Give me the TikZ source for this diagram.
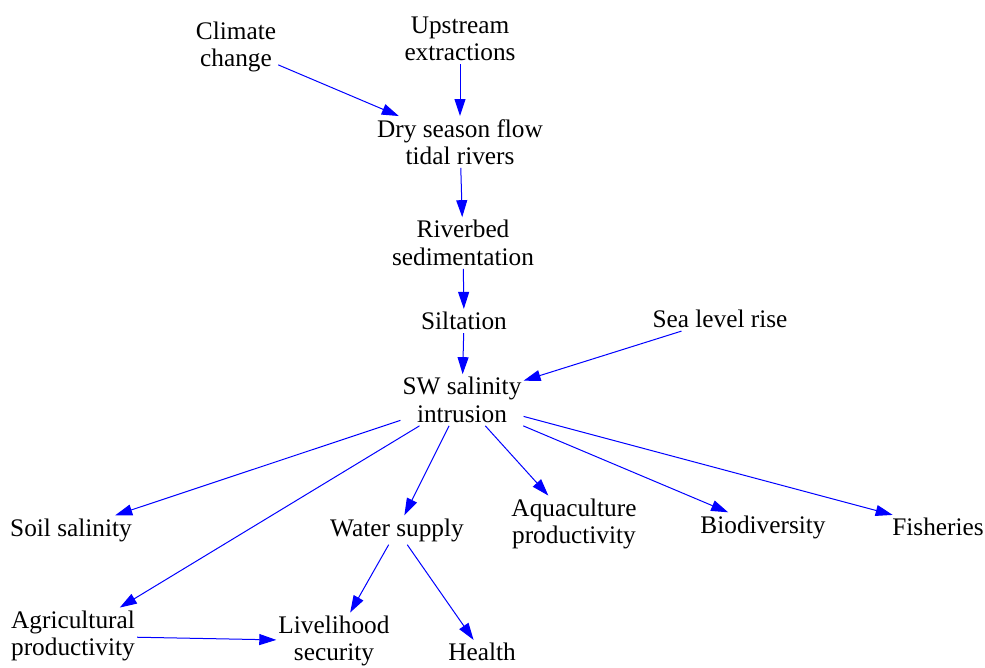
\documentclass[tikz,border=0pt]{standalone}
\usepackage{fontspec}
\setmainfont{Liberation Serif}
\usetikzlibrary{arrows.meta}

\begin{document}
\begin{tikzpicture}[x=1pt, y=-1pt, >={Triangle[length=17pt, width=11pt]}, line join=round,
	factor/.style={align=center, inner xsep=2pt, inner ysep=3pt, font=\fontsize{25.3}{27.5}\selectfont},
	link/.style={->, blue, line width=1pt}]
	\useasboundingbox (0,0) rectangle (985,667);
	% drivers
	\node[factor] (clim) at (236,47) {Climate\\change};
	\node[factor] (upstr) at (460,39) {Upstream\\extractions};
	\node[factor] (dryflow) at (460,142) {Dry season flow\\tidal rivers};
	\node[factor] (riverbed) at (463,243) {Riverbed\\sedimentation};
	\node[factor] (silt) at (464,321) {Siltation};
	\node[factor] (sealevel) at (720,319) {Sea level rise};
	\node[factor] (swsal) at (462,400) {SW salinity\\intrusion};
	% impacts
	\node[factor] (soilsal) at (71,530) {Soil salinity};
	\node[factor] (water) at (397,530) {Water supply};
	\node[factor] (aqua) at (574,524) {Aquaculture\\productivity};
	\node[factor] (biodiv) at (763,527) {Biodiversity};
	\node[factor] (fish) at (938,527) {Fisheries};
	\node[factor] (agri) at (73,636) {Agricultural\\productivity};
	\node[factor] (liveli) at (334,641) {Livelihood\\security};
	\node[factor] (health) at (482,652) {Health};
	\foreach \a/\b in {clim/dryflow, upstr/dryflow, dryflow/riverbed, riverbed/silt, silt/swsal, sealevel/swsal,
		swsal/soilsal, swsal/agri, swsal/water, swsal/aqua, swsal/biodiv, swsal/fish,
		water/liveli, water/health, agri/liveli}
		\draw[link] (\a) -- (\b);
\end{tikzpicture}
\end{document}
